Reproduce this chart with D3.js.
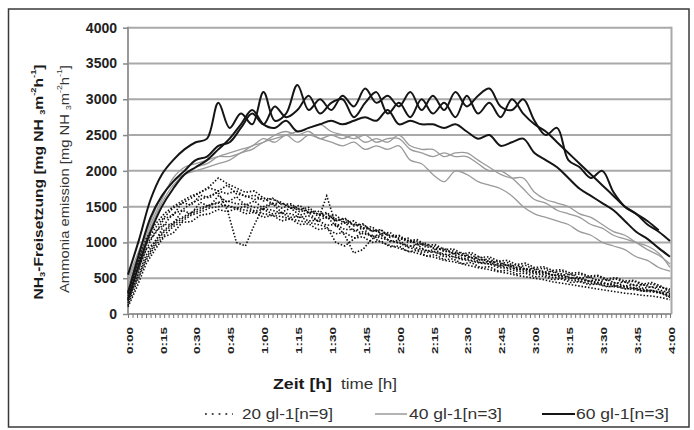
<!DOCTYPE html>
<html><head><meta charset="utf-8">
<script src="https://cdn.jsdelivr.net/npm/d3@7/dist/d3.min.js"></script>
<style>
body{margin:0;background:#fff;}
svg{display:block;font-family:"Liberation Sans",Arial,sans-serif;}
</style></head>
<body>
<svg id="chart" width="694" height="430"></svg>
<script>
// time axes in minutes (0:00 .. 4:00)
const times5 = d3.range(0, 241, 5);   // 40 / 60 g/l runs
const times4 = d3.range(0, 241, 4);   // 20 g/l runs
const xTickMinutes = d3.range(0, 241, 15);
const yTicks = [0,500,1000,1500,2000,2500,3000,3500,4000];
const legendLabels = ["20 gl-1[n=9]", "40 gl-1[n=3]", "60 gl-1[n=3]"];

// 20 g/l  (dotted, 9 runs, every 4 min)
const g20_1 = [250,650,980,1120,1330,1380,1560,1520,1660,1620, 1720,1680,1720,1640,1660,1580,1620,1530,1540,1460, 1490,1390,1420,1310,1340,1240,1260,1150,1180,1070, 1090,1000,1020,930,950,870,880,810,830,750, 770,700,720,650,680,620,640,580,600,540, 560,510,530,470,490,440,460,400,420,370, 350];
const g20_2 = [300,700,1050,1250,1400,1500,1580,1650,1700,1780, 1900,1820,1760,1700,1720,1620,1600,1560,1480,1520, 1420,1440,1350,1380,1280,1300,1200,1220,1120,1140, 1040,1060,960,990,900,920,840,860,780,800, 720,740,670,690,620,640,580,600,540,560, 500,520,470,480,430,450,400,410,370,380, 330];
const g20_3 = [100,380,700,900,1080,1130,1280,1290,1380,1400, 1460,1430,1470,1400,1420,1350,1380,1300,1330,1250, 1260,1180,1200,1120,1140,1060,1080,1000,1020,940, 950,870,890,810,830,760,770,700,720,650, 660,600,610,560,570,520,530,480,490,440, 450,410,420,380,390,350,360,320,330,290, 230];
const g20_4 = [220,600,900,1150,1250,1400,1450,1550,1600,1650, 1700,1450,1000,950,1250,1500,1550,1480,1520,1430, 1460,1370,1400,1300,1330,1230,1250,1160,1170,1090, 1100,1020,1040,960,970,900,910,840,860,790, 800,740,750,690,710,650,660,610,620,570, 580,530,540,490,510,460,470,420,440,390, 300];
const g20_5 = [180,520,820,1020,1170,1280,1350,1420,1480,1520, 1560,1580,1540,1530,1490,1470,1450,1410,1400,1350, 1370,1300,1650,1250,1100,850,900,1050,1100,1020, 1000,930,900,860,870,800,800,760,740,710, 700,650,640,600,590,560,550,510,500,470, 460,430,420,390,380,360,340,320,310,290, 260];
const g20_6 = [150,560,900,1000,1250,1250,1450,1400,1560,1500, 1650,1560,1640,1520,1580,1470,1540,1420,1480,1380, 1420,1300,1360,1230,1280,1160,1200,1080,1120,1010, 1030,940,970,880,900,820,840,770,790,720, 730,670,690,620,640,580,600,540,560,500, 510,460,480,420,440,390,410,360,380,330, 290];
const g20_7 = [120,450,750,950,1100,1220,1300,1380,1420,1480, 1500,1520,1480,1500,1440,1460,1400,1410,1350,1360, 1300,1310,1240,1250,1180,1180,1120,1100,1060,1030, 990,960,920,890,860,840,800,780,750,720, 700,680,650,630,610,580,570,540,520,500, 480,460,440,420,400,380,370,340,330,300, 240];
const g20_8 = [280,680,1000,1200,1350,1480,1550,1620,1700,1760, 1720,1800,1680,1650,1600,1620,1540,1550,1480,1470, 1420,1400,1340,1330,1270,1260,1200,1180,1130,1100, 1060,1030,990,960,920,890,850,820,790,760, 740,700,680,650,630,600,580,550,530,510, 490,460,440,420,400,380,360,340,320,310, 280];
const g20_9 = [200,480,780,980,1150,1250,1330,1400,1450,1520, 1550,1500,1480,1450,1430,1400,1380,1360,1330,1300, 1280,1250,1220,1000,950,1050,1150,1080,1000,960, 920,880,850,810,790,750,730,700,670,640, 620,590,570,540,520,500,480,450,430,410, 390,370,350,330,310,290,280,260,250,230, 200];

// 40 g/l  (grey, 3 runs, every 5 min)
const g40_1 = [500,900,1300,1650,1850,1950,2000,2050,2100,2150,2250,2300,2400,2450,2500,2550,2600,2650,2550,2500,2450,2500,2400,2450,2450,2300,2250,2200,2250,2200,2200,2100,2000,2000,1900,1750,1600,1550,1450,1400,1350,1250,1200,1100,1050,1000,950,850,650];
const g40_2 = [400,800,1200,1550,1800,1950,2050,2100,2200,2250,2300,2350,2450,2400,2500,2400,2500,2450,2400,2350,2400,2300,2350,2300,2350,2150,2100,1950,1850,2000,1950,1850,1800,1750,1650,1500,1400,1350,1300,1250,1150,1100,1000,950,900,800,750,650,600];
const g40_3 = [450,850,1250,1600,1900,2050,2100,2150,2200,2200,2250,2350,2400,2500,2550,2500,2550,2450,2500,2450,2500,2400,2450,2400,2500,2350,2300,2300,2200,2250,2250,2150,2050,1950,1900,1900,1700,1600,1550,1500,1400,1350,1250,1150,1100,1000,900,820,700];

// 60 g/l  (black, 3 runs, every 5 min)
const g60_1 = [550,1050,1600,1950,2150,2300,2400,2450,2950,2600,2800,2650,3100,2700,2800,3200,2850,3000,2850,3050,2900,3150,2950,3050,2900,3100,2850,3050,2850,3100,2900,3050,3150,2900,2850,3000,2700,2500,2600,2150,2050,1900,2000,1700,1500,1400,1300,1170,null];
const g60_2 = [300,850,1350,1650,1850,2000,2150,2200,2350,2400,2600,2800,2650,2900,2750,2850,3050,2800,2950,3000,2750,2950,3100,2800,2950,2750,3000,2800,2950,2750,3050,2800,2950,2750,3000,2800,2650,2550,2400,2250,2100,1950,1800,1650,1500,1400,1250,1150,1020];
const g60_3 = [200,700,1150,1500,1750,1950,2050,2150,2300,2450,2650,2850,2650,2600,2700,2550,2600,2650,2700,2650,2700,2750,2700,2850,2650,2700,2650,2650,2600,2650,2550,2450,2500,2350,2400,2450,2250,2150,2050,1900,1750,1650,1550,1450,1300,1150,1050,920,800];

const series20 = [g20_1,g20_2,g20_3,g20_4,g20_5,g20_6,g20_7,g20_8,g20_9];
const series40 = [g40_1,g40_2,g40_3];
const series60 = [g60_1,g60_2,g60_3];

const svg = d3.select("#chart");
const L = 128, R = 671.5, T = 27.7, B = 314;
const x = d3.scaleLinear().domain([0,240]).range([L, 670]);
const y = d3.scaleLinear().domain([0,4000]).range([B, T]);

// outer frame
svg.append("rect").attr("x",8.5).attr("y",9).attr("width",680.5).attr("height",418)
  .attr("fill","none").attr("stroke","#3a3a3a").attr("stroke-width",1.5);

// gridlines
svg.append("g").selectAll("line").data(yTicks.filter(v=>v>0)).join("line")
  .attr("x1",L).attr("x2",R).attr("y1",d=>y(d)).attr("y2",d=>y(d))
  .attr("stroke","#a9a9a9").attr("stroke-width",2);
svg.append("line").attr("x1",R).attr("x2",R).attr("y1",T-1).attr("y2",B)
  .attr("stroke","#a9a9a9").attr("stroke-width",2);

const fmt = m => Math.floor(m/60) + ":" + String(m%60).padStart(2,"0");

// x minor ticks
const xMinor = svg.append("g").attr("transform",`translate(0,${B})`)
  .call(d3.axisBottom(x).tickValues(d3.range(0,241,2)).tickSize(4).tickFormat(""));
xMinor.select(".domain").attr("stroke","#999").attr("stroke-width",2).attr("d",`M${L},0H${R}`);
xMinor.selectAll(".tick line").attr("stroke","#777").attr("stroke-width",1);

// x labels
const xLab = svg.append("g").attr("transform",`translate(0,${B})`)
  .call(d3.axisBottom(x).tickValues(xTickMinutes).tickSize(0).tickFormat(fmt));
xLab.select(".domain").remove();
xLab.selectAll(".tick text")
  .attr("font-family","'Liberation Sans',Arial,sans-serif")
  .attr("font-size",13.5).attr("font-weight","bold").attr("fill","#222")
  .attr("text-anchor","end").attr("dy",null).attr("y",null)
  .attr("transform","translate(0.5,13) scale(0.7,1) rotate(-90)")
  .attr("dominant-baseline","central");

// y axis
const yAx = svg.append("g").attr("transform",`translate(${L},0)`)
  .call(d3.axisLeft(y).tickValues(yTicks).tickSize(5).tickPadding(6).tickFormat(d3.format("d")));
yAx.select(".domain").attr("stroke","#999").attr("stroke-width",2).attr("d",`M0,${T-1}V${B}`);
yAx.selectAll(".tick line").attr("stroke","#888").attr("stroke-width",1.5);
yAx.selectAll(".tick text").attr("font-family","'Liberation Sans',Arial,sans-serif")
  .attr("font-size",14).attr("font-weight","bold").attr("fill","#222");

// lines
const line = d3.line().defined(d=>d[1]!=null).x(d=>x(d[0])).y(d=>y(d[1]));
const smooth = d3.line().defined(d=>d[1]!=null).x(d=>x(d[0])).y(d=>y(d[1])).curve(d3.curveCatmullRom.alpha(0.5));
const toPts = (s, t) => s.map((v,i)=>[t[i], v]);

svg.append("g").selectAll("path").data(series40).join("path")
  .attr("d",s=>smooth(toPts(s, times5))).attr("fill","none")
  .attr("stroke","#9a9a9a").attr("stroke-width",1.3);
svg.append("g").selectAll("path").data(series20).join("path")
  .attr("d",s=>line(toPts(s, times4))).attr("fill","none")
  .attr("stroke","#111").attr("stroke-width",1.6).attr("stroke-dasharray","1.5,1.8");
svg.append("g").selectAll("path").data(series60).join("path")
  .attr("d",s=>smooth(toPts(s, times5))).attr("fill","none")
  .attr("stroke","#151515").attr("stroke-width",2);

// y titles
function unitSpans(t){
  t.append("tspan").attr("font-size",8).attr("baseline-shift","sub").text("3");
  t.append("tspan").text("m");
  t.append("tspan").attr("font-size",8).attr("baseline-shift","super").text("-2");
  t.append("tspan").text("h");
  t.append("tspan").attr("font-size",8).attr("baseline-shift","super").text("-1");
  t.append("tspan").text("]");
}
const t1 = svg.append("text")
    .attr("transform",`translate(38,182) rotate(-90)`)
    .attr("text-anchor","middle").attr("dominant-baseline","central")
    .attr("font-size",13.5).attr("fill","#1a1a1a").attr("font-weight","bold")
    .attr("textLength",235).attr("lengthAdjust","spacingAndGlyphs");
t1.append("tspan").text("NH");
t1.append("tspan").attr("font-size",8).attr("baseline-shift","sub").text("3");
t1.append("tspan").text("-Freisetzung  [mg NH ");
unitSpans(t1);
const t2 = svg.append("text")
    .attr("transform",`translate(64,179) rotate(-90)`)
    .attr("text-anchor","middle").attr("dominant-baseline","central")
    .attr("font-size",13.5).attr("fill","#333")
    .attr("textLength",228).attr("lengthAdjust","spacingAndGlyphs");
t2.append("tspan").text("Ammonia emission [mg NH ");
unitSpans(t2);

// x title
svg.append("text").attr("x",273).attr("y",389).attr("font-size",14).attr("font-weight","bold")
  .attr("fill","#1a1a1a").attr("textLength",59).attr("lengthAdjust","spacingAndGlyphs").text("Zeit [h]");
svg.append("text").attr("x",341).attr("y",389).attr("font-size",14).attr("fill","#333")
  .attr("textLength",56).attr("lengthAdjust","spacingAndGlyphs").text("time [h]");

// legend
const leg = [
  {x1:205,x2:233,tx:242,tw:91,stroke:"#111",w:1.6,dash:"1.8,5"},
  {x1:375,x2:407,tx:409,tw:93,stroke:"#9a9a9a",w:1.5,dash:null},
  {x1:542,x2:575,tx:576,tw:93,stroke:"#151515",w:2,dash:null}
];
leg.forEach((d,i)=>{
  svg.append("line").attr("x1",d.x1).attr("x2",d.x2).attr("y1",414).attr("y2",414)
    .attr("stroke",d.stroke).attr("stroke-width",d.w).attr("stroke-dasharray",d.dash);
  svg.append("text").attr("x",d.tx).attr("y",419).attr("font-size",14).attr("fill","#333")
    .attr("textLength",d.tw).attr("lengthAdjust","spacingAndGlyphs").text(legendLabels[i]);
});
</script>
</body></html>
